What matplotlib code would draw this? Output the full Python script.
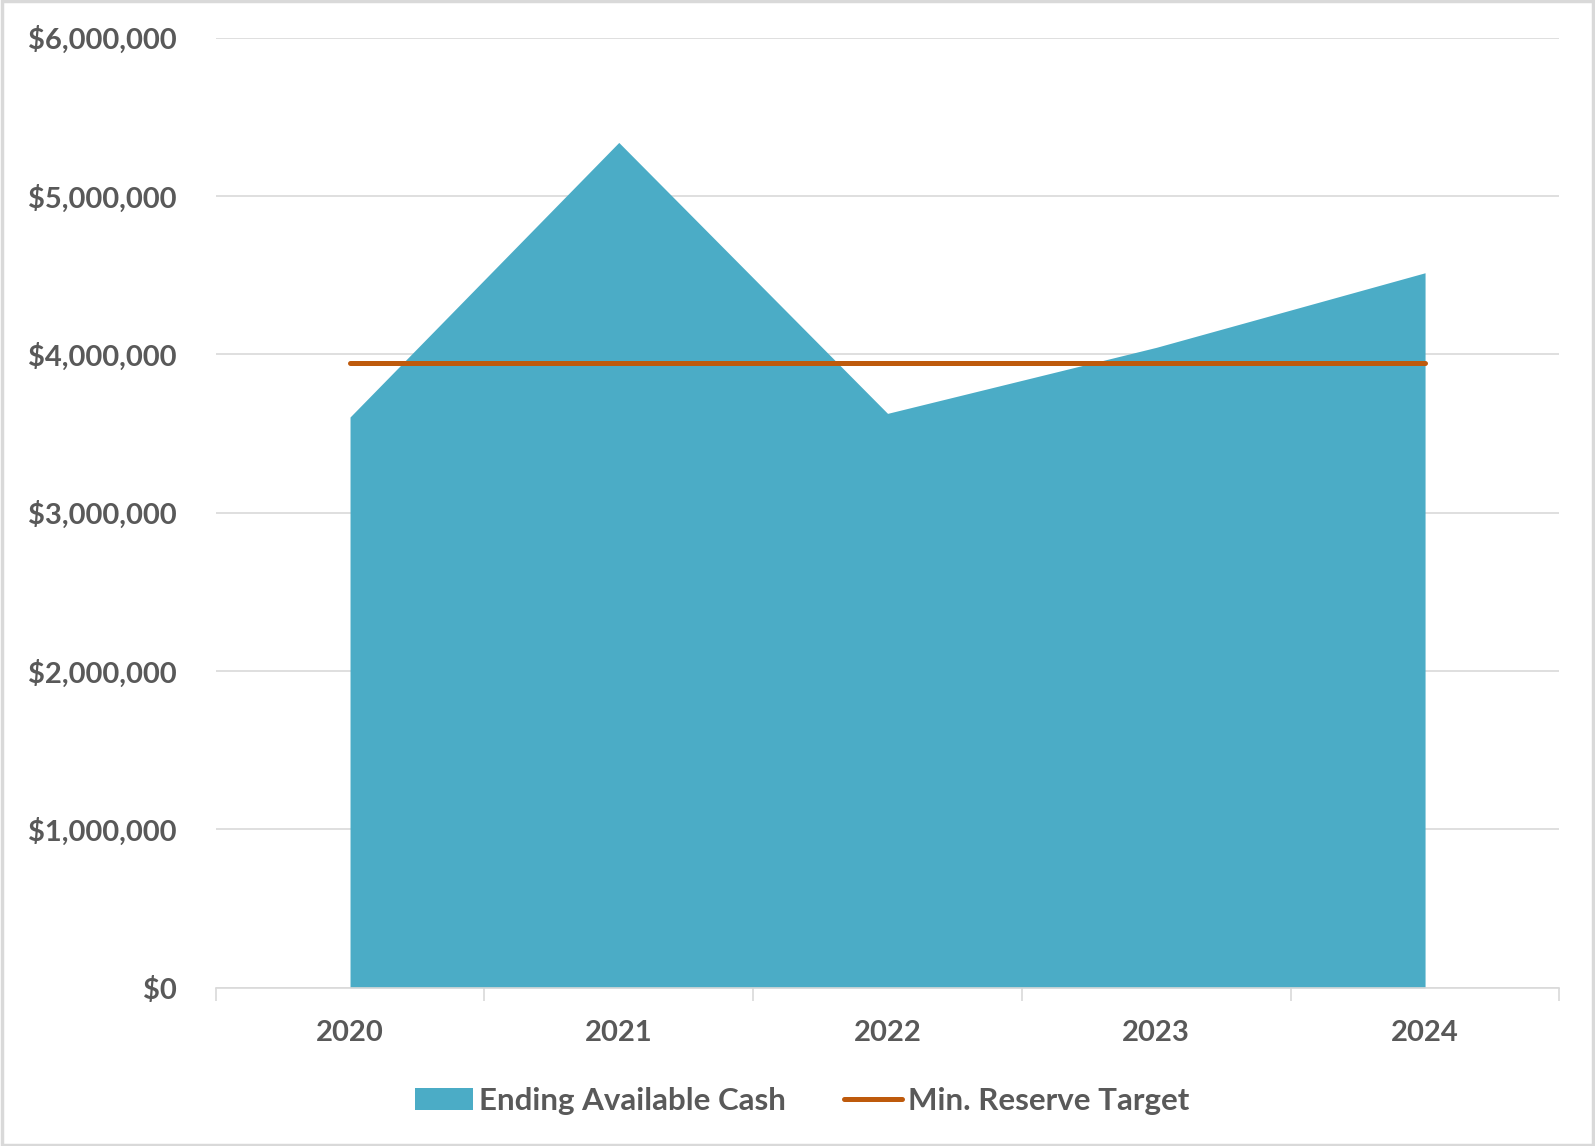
import matplotlib
matplotlib.use("Agg")
import matplotlib.pyplot as plt
from matplotlib.ticker import FuncFormatter, FixedLocator
from matplotlib.patches import Rectangle
from matplotlib.lines import Line2D
from matplotlib.patches import Patch

# Данные
years = ["2020", "2021", "2022", "2023", "2024"]
ending_cash = [3604000, 5338000, 3627000, 4044000, 4515000]
min_reserve = [3943000, 3943000, 3943000, 3943000, 3943000]

AREA_COLOR = "#4BACC6"
LINE_COLOR = "#BE5A0C"
TEXT_COLOR = "#595959"
GRID_COLOR = "#D9D9D9"

plt.rcParams["font.family"] = ["Lato", "DejaVu Sans"]

fig = plt.figure(figsize=(15.95, 11.46), dpi=100)
ax = fig.add_axes([0.1352, 0.1381, 0.9777 - 0.1352, 0.9672 - 0.1381])

x = list(range(len(years)))
ax.fill_between(x, 0, ending_cash, color=AREA_COLOR, linewidth=0, zorder=2)
ax.plot(x, min_reserve, color=LINE_COLOR, linewidth=3.6, solid_capstyle="round", zorder=3)

ax.set_xlim(-0.5, len(years) - 0.5)
ax.set_ylim(0, 6000000)
ax.set_yticks(range(0, 6000001, 1000000))
ax.yaxis.set_major_formatter(FuncFormatter(lambda v, p: f"${v:,.0f}"))
ax.grid(axis="y", color=GRID_COLOR, linewidth=1.2, zorder=0)
ax.set_axisbelow(True)

ax.set_xticks(x)
ax.set_xticklabels(years)
ax.xaxis.set_minor_locator(FixedLocator([i - 0.5 for i in range(len(years) + 1)]))
ax.tick_params(axis="x", which="major", length=0, pad=23, labelsize=21,
               labelcolor=TEXT_COLOR)
ax.tick_params(axis="x", which="minor", length=9, width=1.2, color=GRID_COLOR,
               direction="out")
ax.tick_params(axis="y", length=0, pad=28, labelsize=21, labelcolor=TEXT_COLOR)
for lbl in ax.get_xticklabels() + ax.get_yticklabels():
    lbl.set_fontweight("bold")

for side in ["left", "right", "top"]:
    ax.spines[side].set_visible(False)
ax.spines["bottom"].set_color(GRID_COLOR)
ax.spines["bottom"].set_linewidth(1.2)

handles = [Patch(facecolor=AREA_COLOR, edgecolor="none", label="Ending Available Cash"),
           Line2D([0], [0], color=LINE_COLOR, linewidth=3.6, solid_capstyle="round",
                  label="Min. Reserve Target")]
leg = fig.legend(handles=handles, loc="center", bbox_to_anchor=(0.503, 0.0395),
                 ncol=2, frameon=False, handlelength=1.86, handleheight=0.7,
                 handletextpad=0.2, columnspacing=1.85,
                 prop={"size": 22.5, "weight": "bold"})
for t in leg.get_texts():
    t.set_color(TEXT_COLOR)

fig.patches.append(Rectangle((0.001, 0.001), 0.998, 0.998, transform=fig.transFigure,
                             fill=False, edgecolor="#D9D9D9", linewidth=2.5))

fig.savefig("out.png", dpi=100)
